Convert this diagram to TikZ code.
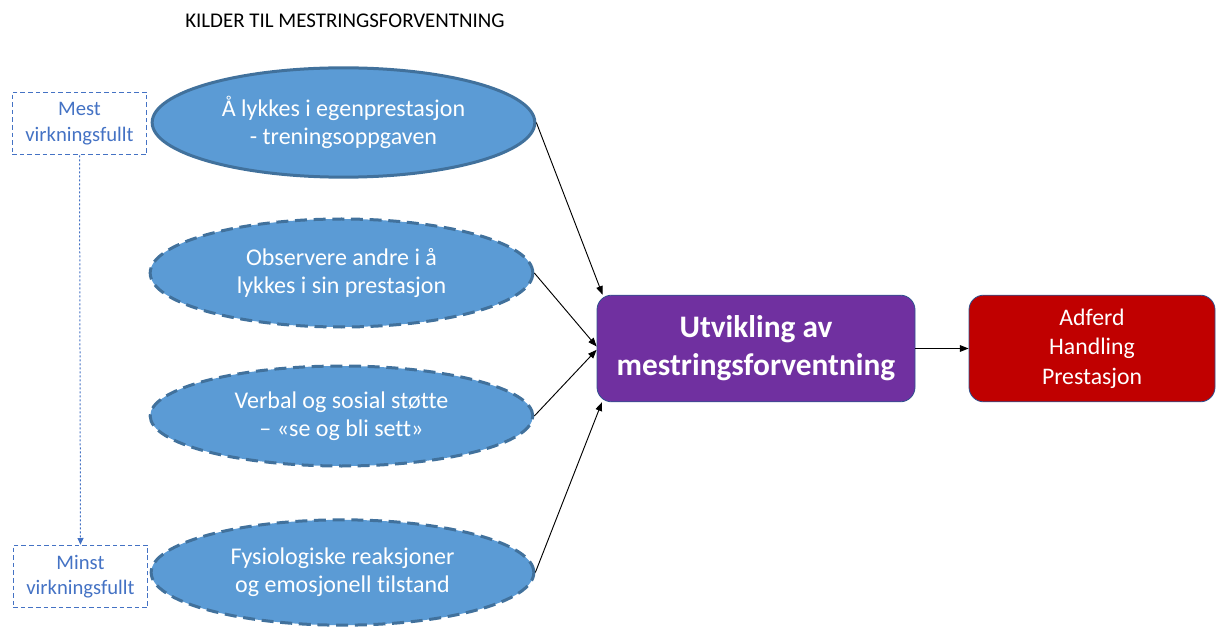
\documentclass[tikz,border=0pt]{standalone}
\usepackage{fontspec}
\setmainfont{Carlito}[Ligatures=NoCommon]
\usetikzlibrary{shapes.geometric,arrows.meta}

\definecolor{ellfill}{HTML}{5B9BD5}
\definecolor{elledge}{HTML}{41719C}
\definecolor{lblblue}{HTML}{4472C4}
\definecolor{boxedge}{HTML}{2F528F}
\definecolor{purplebox}{HTML}{7030A0}
\definecolor{redbox}{HTML}{C00000}

\tikzset{
  source/.style={ellipse, fill=ellfill, draw=elledge, line width=2.25pt,
    minimum width=287pt, minimum height=81pt, inner sep=0pt,
    text=white, align=center, font=\fontsize{18}{21}\selectfont},
  weaksource/.style={source, dash pattern=on 9pt off 5pt},
  rankbox/.style={draw=lblblue, line width=0.75pt, dash pattern=on 3.5pt off 2.2pt,
    minimum width=101pt, minimum height=47pt, inner sep=0pt,
    text=lblblue, align=center, font=\fontsize{15.5}{19}\selectfont},
  result/.style={rounded corners=11pt, draw=boxedge, line width=0.6pt,
    text=white, align=center, inner sep=0pt, minimum height=80pt},
  feed/.style={-{Triangle[length=6.5pt,width=5pt]}, line width=0.7pt, black},
}

\begin{document}
\begin{tikzpicture}[x=0.75pt, y=-0.75pt]
  \useasboundingbox (0,0) rectangle (1217,627);

  % heading
  \node (title) at (345,21) {\fontsize{15.7}{18}\selectfont KILDER TIL MESTRINGSFORVENTNING};

  % ranking boxes on the left
  \node[rankbox] (most)  at (79.5,123.5) {Mest\\virkningsfullt};
  \node[rankbox] (least) at (80.5,576.5) {Minst\\virkningsfullt};
  \draw[lblblue, line width=0.75pt, dash pattern=on 1.5pt off 1.5pt,
        -{Triangle[length=5pt,width=4.5pt]}] (most.south) -- (least.north);

  % the four sources
  \node[source, minimum height=82pt]     (e1) at (343.5,122.5) {Å lykkes i egenprestasjon\\- treningsoppgaven};
  \node[weaksource, minimum height=81pt] (e2) at (341.5,273)   {Observere andre i å\\lykkes i sin prestasjon};
  \node[weaksource, minimum height=75pt] (e3) at (341.5,416)   {Verbal og sosial støtte\\– «se og bli sett»};
  \node[weaksource, minimum height=79pt] (e4) at (342.5,572.5) {Fysiologiske reaksjoner\\og emosjonell tilstand};

  % central box and outcome
  \node[result, fill=purplebox, minimum width=238.5pt,
        font=\bfseries\fontsize{23.5}{28.5}\selectfont] (dev) at (756,348.5)
        {Utvikling av\\mestringsforventning};
  \node[result, fill=redbox, minimum width=184.5pt,
        font=\fontsize{17.8}{22}\selectfont] (out) at (1092,348.5)
        {Adferd\\Handling\\Prestasjon};

  % connectors
  \draw[feed] (e1.east) -- ([xshift=4.5pt]dev.north west);
  \draw[feed] (e2.east) -- ([yshift=1.5pt]dev.west);
  \draw[feed] (e3.east) -- ([yshift=-1pt]dev.west);
  \draw[feed] (e4.east) -- ([xshift=4pt]dev.south west);
  \draw[feed] (dev.east) -- (out.west);
\end{tikzpicture}
\end{document}
